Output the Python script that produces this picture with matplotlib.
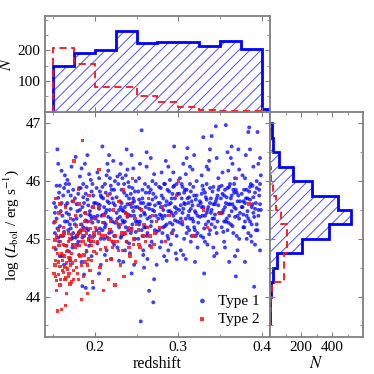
import matplotlib
matplotlib.use('Agg')
import matplotlib.pyplot as plt
import numpy as np

plt.rcParams['font.family'] = ['Liberation Serif', 'DejaVu Serif']
plt.rcParams['mathtext.fontset'] = 'stix'
plt.rcParams['hatch.linewidth'] = 0.7

# ---- scatter data ----
type1 = [
    (0.151,45.62),(0.152,45.10),(0.153,44.82),(0.154,45.35),(0.155,46.55),(0.156,45.71),(0.157,44.95),(0.158,45.22),
    (0.159,45.48),(0.160,46.18),(0.161,44.70),(0.162,45.05),(0.163,45.88),(0.164,45.30),(0.165,45.58),(0.166,44.88),
    (0.167,46.02),(0.168,45.15),(0.169,45.42),(0.170,44.62),(0.171,45.75),(0.172,46.25),(0.173,45.02),(0.174,45.33),
    (0.152,45.45),(0.158,45.92),(0.163,44.55),(0.167,45.62),(0.171,45.18),(0.174,45.85),(0.156,46.30),(0.169,45.95),
    (0.151,45.28),(0.153,45.55),(0.155,45.18),(0.157,45.80),(0.159,45.05),(0.161,45.40),(0.163,45.12),(0.165,45.95),
    (0.167,45.30),(0.169,44.78),(0.171,45.52),(0.173,45.65),(0.154,45.92),(0.160,45.62),(0.166,45.45),(0.172,45.00),
    (0.158,44.70),(0.164,46.10),(0.170,45.25),(0.174,45.10),(0.156,45.02),(0.162,45.75),(0.168,45.82),(0.173,44.85),
    (0.176,45.25),(0.177,46.42),(0.178,45.60),(0.179,44.90),(0.180,45.78),(0.181,45.12),(0.182,46.08),(0.183,45.40),
    (0.184,44.60),(0.185,45.55),(0.186,45.95),(0.187,45.05),(0.188,46.30),(0.189,45.32),(0.190,44.78),(0.191,45.68),
    (0.192,45.15),(0.193,46.12),(0.194,45.48),(0.195,44.95),(0.196,45.82),(0.197,45.28),(0.198,44.15),(0.199,45.62),
    (0.178,45.05),(0.183,45.88),(0.187,44.38),(0.191,46.45),(0.195,45.40),(0.199,45.05),(0.181,44.72),(0.186,45.20),
    (0.193,44.88),(0.197,45.95),(0.189,44.15),(0.185,44.18),
    (0.176,45.70),(0.178,45.35),(0.180,45.08),(0.182,45.50),(0.184,45.25),(0.186,45.72),(0.188,45.45),(0.190,45.90),
    (0.192,45.58),(0.194,45.05),(0.196,45.35),(0.198,45.75),(0.177,45.02),(0.179,45.48),(0.181,45.88),(0.183,45.15),
    (0.185,45.02),(0.187,45.62),(0.189,45.78),(0.191,45.30),(0.193,45.42),(0.195,46.02),(0.197,45.55),(0.199,45.38),
    (0.184,46.22),(0.190,45.18),(0.196,44.70),(0.180,44.95),
    (0.201,45.35),(0.202,45.88),(0.203,44.92),(0.204,45.60),(0.205,46.05),(0.206,45.18),(0.207,44.55),(0.208,45.72),
    (0.209,46.60),(0.210,45.42),(0.211,45.00),(0.212,45.95),(0.213,45.25),(0.214,44.80),(0.215,45.65),(0.216,46.18),
    (0.217,45.10),(0.218,45.50),(0.219,44.65),(0.220,45.85),(0.221,45.30),(0.222,46.35),(0.223,45.05),(0.224,45.58),
    (0.203,45.40),(0.207,45.75),(0.211,45.55),(0.215,45.02),(0.219,45.92),(0.223,44.90),(0.205,44.40),(0.217,46.45),
    (0.213,45.45),(0.209,45.15),(0.221,45.70),(0.224,46.00),
    (0.201,45.62),(0.202,45.15),(0.204,45.30),(0.206,45.82),(0.208,45.40),(0.210,45.70),(0.212,45.20),(0.214,45.50),
    (0.216,45.38),(0.218,45.78),(0.220,45.12),(0.222,45.62),(0.224,45.28),(0.203,46.15),(0.205,45.52),(0.207,45.00),
    (0.209,45.90),(0.211,45.28),(0.213,45.80),(0.215,46.30),(0.217,45.62),(0.219,45.35),(0.221,44.95),(0.223,45.85),
    (0.212,44.72),(0.218,46.05),(0.206,45.58),(0.214,46.10),
    (0.226,45.45),(0.227,44.85),(0.228,45.95),(0.229,45.20),(0.230,45.65),(0.231,46.30),(0.232,45.05),(0.233,45.50),
    (0.234,44.60),(0.235,45.80),(0.236,45.30),(0.237,46.10),(0.238,44.95),(0.239,45.60),(0.240,45.15),(0.241,45.90),
    (0.242,44.75),(0.243,45.40),(0.244,46.45),(0.245,45.25),(0.246,45.70),(0.247,44.55),(0.248,45.55),(0.249,46.00),
    (0.227,45.35),(0.231,45.55),(0.235,45.08),(0.239,46.20),(0.243,45.78),(0.247,45.40),(0.229,44.62),(0.233,46.05),
    (0.237,45.45),(0.241,44.92),(0.245,45.62),(0.249,45.30),(0.238,46.55),(0.244,44.40),(0.232,45.85),
    (0.226,45.72),(0.228,45.25),(0.230,45.38),(0.232,45.62),(0.234,45.28),(0.236,45.55),(0.238,45.75),(0.240,45.42),
    (0.242,45.60),(0.244,45.18),(0.246,45.48),(0.248,45.82),(0.227,46.08),(0.229,45.50),(0.231,45.02),(0.233,45.32),
    (0.235,45.95),(0.237,45.20),(0.239,45.38),(0.241,45.70),(0.243,45.10),(0.245,45.88),(0.247,45.65),(0.249,45.12),
    (0.236,44.80),(0.240,45.98),(0.244,45.55),(0.230,46.12),(0.234,45.48),(0.246,46.22),(0.248,45.00),
    (0.251,45.55),(0.252,45.00),(0.253,46.05),(0.254,45.30),(0.255,43.57),(0.256,46.88),(0.257,45.70),(0.258,44.80),
    (0.259,45.45),(0.260,45.95),(0.261,45.20),(0.262,46.25),(0.263,44.65),(0.264,45.60),(0.265,44.10),(0.266,45.38),
    (0.267,45.85),(0.268,44.95),(0.269,45.50),(0.270,43.90),(0.271,46.12),(0.272,45.15),(0.273,45.72),(0.274,44.55),
    (0.253,45.25),(0.257,45.05),(0.261,45.80),(0.265,45.52),(0.269,46.00),(0.273,45.40),(0.255,45.62),(0.263,45.10),
    (0.267,46.40),(0.271,44.30),(0.259,44.50),
    (0.251,45.30),(0.253,45.68),(0.255,45.40),(0.257,45.85),(0.259,45.20),(0.261,45.55),(0.263,45.35),(0.265,45.80),
    (0.267,45.22),(0.269,45.68),(0.271,45.48),(0.273,45.95),(0.252,45.82),(0.254,45.52),(0.256,45.15),(0.258,45.62),
    (0.260,45.42),(0.262,45.05),(0.264,45.90),(0.266,45.60),(0.268,45.30),(0.270,45.78),(0.272,45.58),(0.274,45.12),
    (0.262,46.50),(0.258,44.72),(0.266,44.88),(0.254,46.30),
    (0.276,45.35),(0.277,45.90),(0.278,44.85),(0.279,45.55),(0.280,46.15),(0.281,45.10),(0.282,45.70),(0.283,44.70),
    (0.284,45.40),(0.285,46.35),(0.286,45.25),(0.287,45.85),(0.288,45.00),(0.289,45.60),(0.290,46.02),(0.291,44.90),
    (0.292,45.45),(0.293,45.78),(0.294,45.15),(0.295,46.60),(0.296,45.55),(0.297,44.75),(0.298,45.95),(0.299,45.30),
    (0.278,45.62),(0.282,45.20),(0.286,44.62),(0.290,45.48),(0.294,45.90),(0.298,45.05),(0.280,45.40),(0.288,46.25),
    (0.296,45.70),(0.284,45.95),(0.292,45.10),
    (0.276,45.62),(0.278,45.42),(0.280,45.75),(0.282,45.50),(0.284,45.22),(0.286,45.65),(0.288,45.48),(0.290,45.28),
    (0.292,45.70),(0.294,45.40),(0.296,45.32),(0.298,45.52),(0.277,45.15),(0.279,45.88),(0.281,45.35),(0.283,45.95),
    (0.285,45.58),(0.287,45.05),(0.289,45.82),(0.291,45.62),(0.293,45.25),(0.295,45.92),(0.297,45.45),(0.299,45.78),
    (0.280,44.95),(0.288,44.80),(0.294,46.15),(0.298,44.65),
    (0.301,45.50),(0.302,46.05),(0.303,44.80),(0.304,45.70),(0.305,45.25),(0.306,46.30),(0.307,45.00),(0.308,45.60),
    (0.309,44.65),(0.310,45.85),(0.311,46.57),(0.312,45.40),(0.313,45.15),(0.314,45.95),(0.315,44.95),(0.316,45.65),
    (0.317,46.20),(0.318,45.30),(0.319,45.75),(0.320,44.60),(0.321,45.45),(0.322,46.00),(0.323,45.10),(0.324,45.58),
    (0.303,45.35),(0.307,45.80),(0.311,45.20),(0.315,45.52),(0.319,46.45),(0.323,44.85),(0.305,45.90),(0.313,45.72),
    (0.321,45.05),(0.309,46.12),(0.317,45.35),
    (0.301,45.78),(0.303,45.58),(0.305,45.45),(0.307,45.62),(0.309,45.35),(0.311,45.70),(0.313,45.48),(0.315,45.82),
    (0.317,45.58),(0.319,45.20),(0.321,45.68),(0.323,45.40),(0.302,45.28),(0.304,45.95),(0.306,45.52),(0.308,45.85),
    (0.310,45.10),(0.312,45.62),(0.314,45.35),(0.316,45.05),(0.318,45.90),(0.320,45.48),(0.322,45.75),(0.324,45.28),
    (0.306,44.72),(0.314,46.25),(0.320,45.15),(0.310,46.40),
    (0.326,45.65),(0.327,45.05),(0.328,46.10),(0.329,45.40),(0.330,46.76),(0.331,44.40),(0.332,45.80),(0.333,45.25),
    (0.334,45.95),(0.335,44.90),(0.336,45.55),(0.337,46.35),(0.338,45.15),(0.339,45.70),(0.340,46.78),(0.341,45.35),
    (0.342,45.90),(0.343,44.70),(0.344,45.60),(0.345,46.95),(0.346,45.10),(0.347,45.75),(0.348,46.05),(0.349,45.45),
    (0.328,45.55),(0.332,44.95),(0.336,46.20),(0.340,45.50),(0.344,45.20),(0.348,45.85),(0.330,45.85),(0.338,45.62),
    (0.346,46.40),(0.334,45.45),
    (0.326,45.38),(0.328,45.78),(0.330,45.55),(0.332,45.40),(0.334,45.68),(0.336,45.30),(0.338,45.88),(0.340,45.25),
    (0.342,45.60),(0.344,45.42),(0.346,45.70),(0.348,45.58),(0.327,45.62),(0.329,45.92),(0.331,45.18),(0.333,45.72),
    (0.335,45.50),(0.337,45.08),(0.339,45.45),(0.341,45.82),(0.343,45.35),(0.345,45.65),(0.347,45.30),(0.349,45.90),
    (0.342,44.85),(0.338,46.55),(0.330,45.02),(0.346,44.75),(0.334,46.25),
    (0.351,45.70),(0.352,45.20),(0.353,46.15),(0.354,45.50),(0.355,44.95),(0.356,45.85),(0.357,46.97),(0.358,45.35),
    (0.359,46.50),(0.360,45.60),(0.361,44.60),(0.362,45.95),(0.363,45.25),(0.364,45.75),(0.365,46.30),(0.366,45.10),
    (0.367,45.55),(0.368,46.05),(0.369,44.35),(0.370,45.80),(0.371,45.40),(0.372,46.55),(0.373,45.00),(0.374,45.65),
    (0.353,45.45),(0.357,45.30),(0.361,45.90),(0.365,45.60),(0.369,45.85),(0.373,46.20),(0.355,45.75),(0.363,46.40),
    (0.371,44.80),(0.359,45.15),(0.367,45.95),
    (0.351,45.45),(0.353,45.78),(0.355,45.30),(0.357,45.62),(0.359,45.88),(0.361,45.40),(0.363,45.70),(0.365,45.22),
    (0.367,45.80),(0.369,45.52),(0.371,45.65),(0.373,45.35),(0.352,45.92),(0.354,45.12),(0.356,45.55),(0.358,45.72),
    (0.360,45.28),(0.362,45.60),(0.364,45.48),(0.366,45.85),(0.368,45.38),(0.370,45.05),(0.372,45.75),(0.374,45.45),
    (0.356,44.85),(0.364,46.60),(0.368,44.70),(0.360,46.18),
    (0.376,45.55),(0.377,46.10),(0.378,45.20),(0.379,45.85),(0.380,44.60),(0.381,46.45),(0.382,45.40),(0.383,45.70),
    (0.384,46.85),(0.385,46.93),(0.386,45.30),(0.387,45.95),(0.388,44.95),(0.389,45.60),(0.390,46.25),(0.391,44.17),
    (0.392,45.80),(0.393,45.15),(0.394,46.00),(0.395,46.85),(0.396,45.50),(0.397,45.75),(0.398,44.80),(0.399,46.10),
    (0.378,45.65),(0.382,45.00),(0.386,45.90),(0.390,45.45),(0.394,45.25),(0.398,45.60),(0.380,46.05),(0.388,45.55),
    (0.396,46.30),(0.384,45.10),
    (0.376,45.78),(0.378,45.42),(0.380,45.62),(0.382,45.85),(0.384,45.35),(0.386,45.68),(0.388,45.25),(0.390,45.72),
    (0.392,45.52),(0.394,45.88),(0.396,45.40),(0.398,45.95),(0.377,45.55),(0.379,45.20),(0.381,45.70),(0.383,45.48),
    (0.385,45.82),(0.387,45.05),(0.389,45.92),(0.391,45.38),(0.393,45.62),(0.395,45.15),(0.397,45.85),(0.399,45.50),
    (0.386,46.55),(0.392,44.90),(0.380,45.30),(0.398,46.40),
]

type2 = [
    (0.151,44.85),(0.152,45.30),(0.153,44.35),(0.154,45.05),(0.155,43.75),(0.156,44.60),(0.157,45.45),(0.158,44.20),
    (0.159,44.95),(0.160,43.78),(0.161,44.45),(0.162,45.20),(0.163,44.70),(0.164,44.30),(0.165,45.55),(0.166,44.05),
    (0.167,44.80),(0.168,45.10),(0.169,44.40),(0.170,44.65),(0.171,45.35),(0.172,44.25),(0.173,44.90),(0.174,45.65),
    (0.152,44.55),(0.156,45.15),(0.160,44.75),(0.164,44.50),(0.168,44.35),(0.172,44.75),(0.154,44.10),(0.158,45.60),
    (0.162,44.90),(0.166,44.58),(0.170,45.00),(0.174,44.45),(0.153,45.70),(0.165,43.85),(0.175,46.35),
    (0.151,44.40),(0.152,44.98),(0.153,44.62),(0.154,44.28),(0.155,44.75),(0.156,44.38),(0.157,44.88),(0.158,44.52),
    (0.159,44.30),(0.160,45.05),(0.161,44.62),(0.162,44.42),(0.163,45.10),(0.164,44.88),(0.165,44.32),(0.166,44.78),
    (0.167,44.48),(0.168,44.95),(0.169,44.68),(0.170,44.22),(0.171,44.55),(0.172,45.08),(0.173,44.58),(0.174,44.30),
    (0.176,44.85),(0.177,45.40),(0.178,44.50),(0.179,45.05),(0.180,44.30),(0.181,45.60),(0.182,44.70),(0.183,45.25),
    (0.184,43.95),(0.185,46.70),(0.186,44.95),(0.187,45.15),(0.188,44.60),(0.189,45.45),(0.190,44.80),(0.191,44.05),
    (0.192,45.00),(0.193,45.75),(0.194,44.45),(0.195,45.30),(0.196,44.88),(0.197,44.25),(0.198,45.55),(0.199,45.10),
    (0.180,45.85),(0.186,44.35),(0.192,44.65),(0.198,44.95),(0.183,44.95),(0.189,44.90),
    (0.175,44.90),(0.177,44.62),(0.178,45.22),(0.179,44.40),(0.181,44.88),(0.182,45.12),(0.184,44.55),(0.185,45.05),
    (0.187,44.72),(0.188,45.30),(0.190,45.10),(0.191,44.55),(0.193,44.98),(0.194,45.18),(0.196,44.62),(0.197,45.02),
    (0.199,44.78),
    (0.201,45.20),(0.202,44.75),(0.204,45.55),(0.205,46.20),(0.206,44.50),(0.208,45.05),(0.210,44.10),(0.211,45.40),
    (0.213,44.85),(0.215,45.75),(0.216,44.30),(0.218,45.15),(0.220,44.65),(0.222,45.50),(0.223,44.95),(0.224,44.20),
    (0.200,45.35),(0.203,44.95),(0.205,45.10),(0.207,44.82),(0.209,45.28),(0.212,45.05),(0.214,44.62),(0.217,45.00),
    (0.219,45.30),(0.221,44.85),
    (0.226,45.30),(0.228,44.80),(0.229,45.65),(0.231,44.55),(0.232,45.10),(0.234,45.85),(0.235,44.35),(0.237,45.45),
    (0.238,44.95),(0.240,45.20),(0.242,44.70),(0.243,45.60),(0.245,46.05),(0.246,44.90),(0.248,45.35),(0.249,44.60),
    (0.225,45.05),(0.227,44.95),(0.230,45.25),(0.233,44.80),(0.236,45.10),(0.239,45.40),(0.241,44.85),(0.244,45.15),
    (0.247,45.00),
    (0.252,45.15),(0.254,44.85),(0.256,45.50),(0.259,45.25),(0.261,44.95),(0.264,45.70),(0.266,45.05),(0.269,45.40),
    (0.271,44.90),(0.274,45.30),(0.250,45.25),(0.253,44.90),(0.258,45.05),(0.263,45.20),(0.268,44.85),(0.272,45.10),
    (0.278,45.20),(0.281,45.55),(0.285,44.95),(0.289,45.40),(0.293,45.10),(0.298,45.75),(0.300,46.00),
    (0.305,45.30),(0.318,45.05),(0.330,45.50),(0.335,45.20),(0.350,45.45),(0.370,46.05),(0.385,45.60),
]

# ---- redshift histogram (top panel) ----
z_edges = [0.15, 0.175, 0.2, 0.225, 0.25, 0.275, 0.3, 0.325, 0.35, 0.375, 0.4, 0.41]
z_counts1 = [148, 192, 200, 262, 224, 228, 228, 213, 232, 203, 9]
z_counts2 = [207, 155, 80, 80, 53, 33, 15, 6, 3, 3, 0]

# ---- luminosity histogram (right panel) ----
L_edges = [43.5, 43.75, 44.0, 44.25, 44.5, 44.75, 45.0, 45.25, 45.5, 45.75, 46.0, 46.25, 46.5, 46.75, 47.0]
L_counts1 = [1, 2, 9, 21, 47, 204, 381, 520, 441, 269, 150, 58, 21, 15]
L_counts2 = [3, 5, 13, 92, 92, 110, 110, 71, 39, 20, 5, 1, 0, 0]

z1 = [p[0] for p in type1]
L1 = [p[1] for p in type1]
z2 = [p[0] for p in type2]
L2 = [p[1] for p in type2]

blue = '#0000ff'
red = '#ff1010'
hatch_col = '#4f4fff'
frame = '#808080'

fig = plt.figure(figsize=(3.74, 3.74), dpi=100)
ax = fig.add_axes([0.120, 0.099, 0.602, 0.602])
axt = fig.add_axes([0.120, 0.701, 0.602, 0.257], sharex=ax)
axr = fig.add_axes([0.722, 0.099, 0.249, 0.602], sharey=ax)

# main scatter
ax.scatter(z1, L1, s=8, color=blue, alpha=0.75, edgecolors='none', label='Type 1')
ax.scatter(z2, L2, s=6, color=red, alpha=0.85, edgecolors='none', marker='s', label='Type 2')
ax.set_xlim(0.14, 0.41)
ax.set_ylim(43.3, 47.2)
ax.set_xticks([0.2, 0.3, 0.4])
ax.set_yticks([44, 45, 46, 47])
ax.set_xlabel('redshift', fontsize=11.5, labelpad=1)
ax.set_ylabel(r'log ($L_{\rm bol}$ / erg s$^{-1}$)', fontsize=11, labelpad=3)
leg = ax.legend(loc='lower right', frameon=False, fontsize=11, handletextpad=0.0,
                markerscale=1.2, borderaxespad=0.3, labelspacing=0.3)

# top histogram
axt.stairs(z_counts1, z_edges, fill=True, facecolor='none', edgecolor=hatch_col, hatch='///', linewidth=0)
axt.stairs(z_counts1, z_edges, color=blue, linewidth=2)
axt.stairs(z_counts2, z_edges, color=red, linewidth=1.3, linestyle=(0, (4, 2.5)))
axt.set_ylim(0, 313)
axt.set_yticks([100, 200])
axt.set_yticks([50, 150, 250, 300], minor=True)
axt.set_ylabel('$N$', fontsize=12, labelpad=2)
axt.tick_params(labelbottom=False)

# right histogram
axr.stairs(L_counts1, L_edges, orientation='horizontal', fill=True, facecolor='none',
           edgecolor=hatch_col, hatch='///', linewidth=0)
axr.stairs(L_counts1, L_edges, orientation='horizontal', color=blue, linewidth=2)
axr.stairs(L_counts2, L_edges, orientation='horizontal', color=red, linewidth=1.3, linestyle=(0, (4, 2.5)))
axr.set_xlim(0, 600)
axr.set_xticks([200, 400])
axr.set_xticks([100, 300, 500], minor=True)
axr.set_xlabel('$N$', fontsize=12, labelpad=1)
axr.tick_params(labelleft=False)

for a in (ax, axt, axr):
    for s in a.spines.values():
        s.set_color(frame)
        s.set_linewidth(1.3)
    a.tick_params(which='both', direction='in', top=True, right=True, color=frame,
                  labelsize=11, pad=3)
    a.tick_params(which='major', length=3.5)
    a.tick_params(which='minor', length=2.5)

ax.set_xticks([0.15, 0.25, 0.35], minor=True)
ax.set_yticks([43.5, 44.5, 45.5, 46.5], minor=True)

fig.savefig('out.png', dpi=100)
